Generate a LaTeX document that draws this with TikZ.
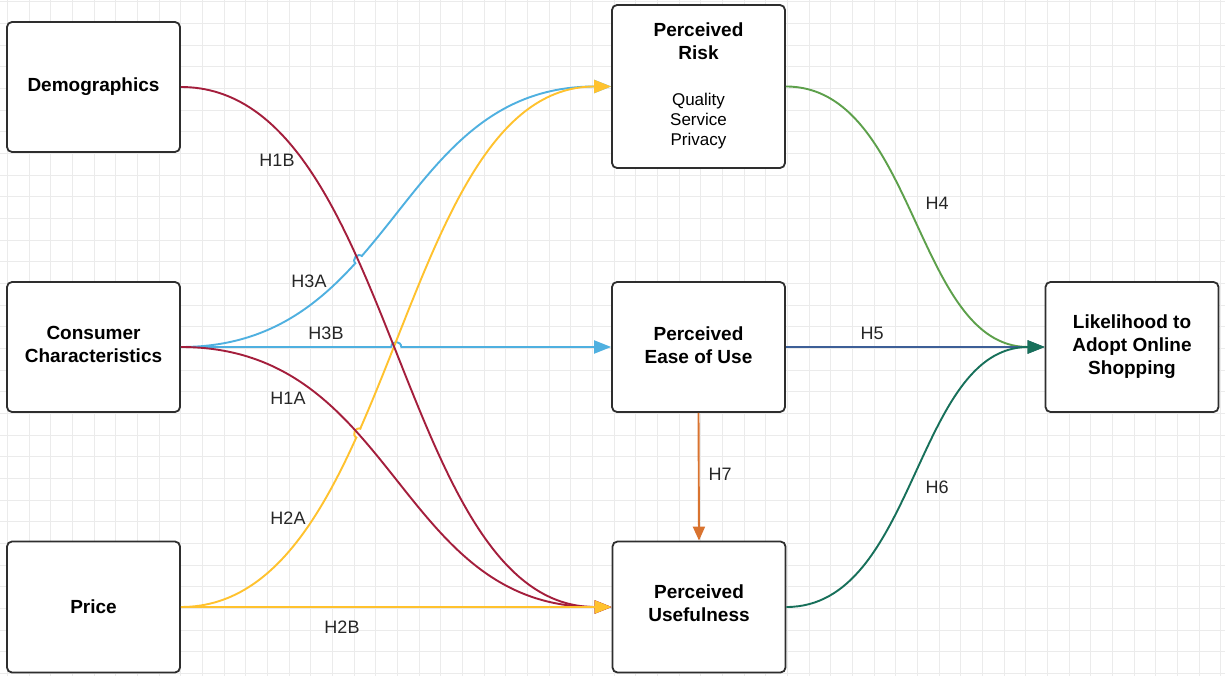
\documentclass[tikz,border=0pt]{standalone}
\usepackage{fontspec}
\setmainfont{Liberation Sans}
\usetikzlibrary{arrows.meta,calc,intersections}
\definecolor{cred}{HTML}{A41E3C}
\definecolor{cblue}{HTML}{4FB0E0}
\definecolor{cyel}{HTML}{FFC22E}
\definecolor{cgreen}{HTML}{5DA04B}
\definecolor{cteal}{HTML}{17705A}
\definecolor{cnavy}{HTML}{3D5F97}
\definecolor{corange}{HTML}{D9732F}
\definecolor{cgrid}{HTML}{EBEBEB}
\definecolor{cborder}{HTML}{2E2E2E}
\newcommand{\myhop}[3]{%
  \fill[white] (#1) circle[radius=4.5pt];
  \draw[#3,conn] ($(#1)+(#2+180:5)$) .. controls ($(#1)+(#2+180:5)+(#2-90:6.5)$) and ($(#1)+(#2:5)+(#2-90:6.5)$) .. ($(#1)+(#2:5)$);
}
\begin{document}
\begin{tikzpicture}[x=1pt,y=-1pt,
  box/.style={draw=cborder,line width=1.8pt,rounded corners=5pt,fill=white,minimum width=173pt,minimum height=130pt,align=center,font=\fontsize{19}{23}\selectfont\bfseries,inner sep=0pt},
  boxtext/.style={align=center,inner sep=0pt},
  lbl/.style={font=\fontsize{18}{20}\selectfont,inner sep=0pt,text=black!85},
  conn/.style={line width=1.9pt},
  tip/.style={-{Triangle[length=17pt,width=13pt]}},
]
\useasboundingbox (0,0) rectangle (1225,676);
\fill[white] (0,0) rectangle (1225,676);
\foreach \i in {0,...,56} \draw[cgrid,line width=0.9pt] ({7.33+21.667*\i},0) -- ({7.33+21.667*\i},676);
\foreach \j in {0,...,31} \draw[cgrid,line width=0.9pt] (0,{1.67+21.667*\j}) -- (1225,{1.67+21.667*\j});

% boxes
\node[box] (dem) at (93.5,87) {Demographics};
\node[box,text depth=4.5pt] (cons) at (93.5,347) {Consumer\\Characteristics};
\node[box,minimum height=131pt] (price) at (93.5,607) {Price};
\node[box,minimum height=163pt] (risk) at (698.5,86.5) {};
\node[boxtext,font=\fontsize{19}{23}\selectfont\bfseries] (risktitle) at (698.5,41.5) {Perceived\\Risk};
\node[boxtext,font=\fontsize{17}{20}\selectfont] (risklist) at (698.5,121.5) {Quality\\Service\\Privacy};
\node[box,text depth=4.5pt] (peou) at (698.5,347) {Perceived\\Ease of Use};
\node[box,text depth=7pt,minimum height=131pt] (pu) at (699,607) {Perceived\\Usefulness};
\node[box] (lik) at (1132,347) {Likelihood to\\Adopt Online\\Shopping};

% path definitions
\path[name path=h1b] (dem.east) .. controls +(216,0) and +(-216,0) .. (pu.west);
\path[name path=h1a] (cons.east) .. controls +(216,0) and +(-216,0) .. (pu.west);
\path[name path=h3a] (cons.east) .. controls +(216,0) and +(-216,0) .. (risk.west);
\path[name path=h3b] (cons.east) -- (peou.west);
\path[name path=h2a] (price.east) .. controls +(216,0) and +(-216,0) .. (risk.west);
\path[name intersections={of=h3a and h1b, by={X1}}];
\path[name intersections={of=h3b and h1b, by={X2}}];
\path[name intersections={of=h2a and h1a, by={X3}}];

% blue connectors
\draw[cblue,conn,tip] (cons.east) .. controls +(216,0) and +(-216,0) .. (risk.west);
\draw[cblue,conn,tip] (cons.east) -- (peou.west);
\myhop{X1}{-48}{cblue}
\myhop{X2}{0}{cblue}

% yellow curve
\draw[cyel,conn,tip] (price.east) .. controls +(216,0) and +(-216,0) .. (risk.west);
\myhop{X3}{-65}{cyel}

% red connectors
\draw[cred,conn,tip] (dem.east) .. controls +(216,0) and +(-216,0) .. (pu.west);
\draw[cred,conn,tip] (cons.east) .. controls +(216,0) and +(-216,0) .. (pu.west);

% yellow straight
\draw[cyel,line width=2.2pt,tip] (price.east) -- (pu.west);

% right side
\draw[cgreen,conn,tip] (risk.east) .. controls +(130,0) and +(-130,0) .. (lik.west);
\draw[cnavy,conn,tip] (peou.east) -- (lik.west);
\draw[cteal,conn,tip] (pu.east) .. controls +(130,0) and +(-130,0) .. (lik.west);
\draw[corange,conn,-{Triangle[length=14pt,width=12pt]}] (peou.south) -- (pu.north);

% labels
\node[lbl] (l1b) at (277,160) {H1B};
\node[lbl] (l3a) at (309,281) {H3A};
\node[lbl] (l3b) at (326,333) {H3B};
\node[lbl] (l1a) at (288,398) {H1A};
\node[lbl] (l2a) at (288,518) {H2A};
\node[lbl] (l2b) at (342,627) {H2B};
\node[lbl] (l4) at (937,203) {H4};
\node[lbl] (l5) at (872,333) {H5};
\node[lbl] (l7) at (720,474) {H7};
\node[lbl] (l6) at (937,487) {H6};
\end{tikzpicture}
\end{document}
